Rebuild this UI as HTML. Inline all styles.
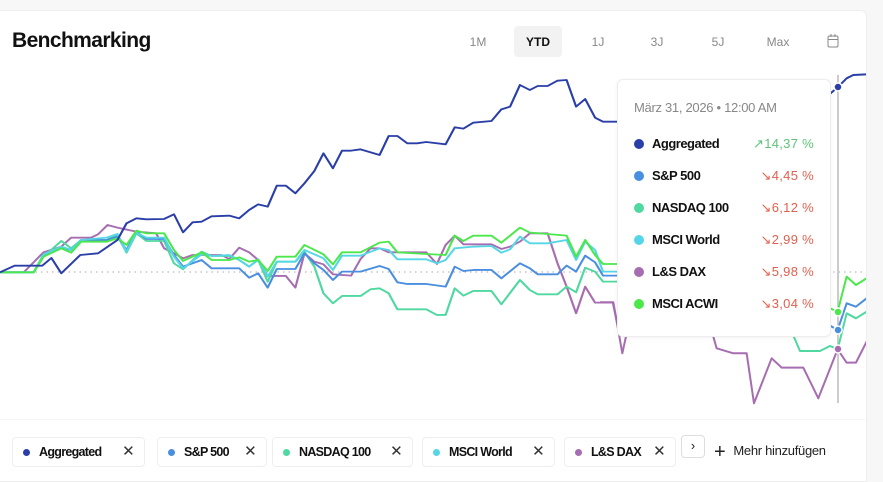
<!DOCTYPE html>
<html><head><meta charset="utf-8"><style>
body{margin:0;width:883px;height:472px;background:#f7f7f7;font-family:"Liberation Sans",sans-serif;overflow:hidden;position:relative}
.card{position:absolute;left:0;top:10px;width:866px;height:470px;background:#fff;border-radius:0 6px 0 0;border:1px solid #eee;border-left:none}
.t{position:absolute;font-size:12px;color:#888;transform:translateX(-50%);top:35px}
.chip{position:absolute;top:437px;height:30px;border:1px solid #eee;border-radius:4px;box-sizing:border-box;font-size:12.5px;font-weight:bold;letter-spacing:-0.7px;color:#111;line-height:28px}
.chip i{display:inline-block;width:7px;height:7px;border-radius:50%;margin:0 9px 0 10px;vertical-align:0}
.chip b{position:absolute;right:10px;top:0;font-weight:normal;font-size:15px;color:#333}
.tt{position:absolute;left:617px;top:79px;width:212px;height:256px;background:#fff;border:1px solid #eee;border-radius:6px;box-shadow:0 1px 4px rgba(0,0,0,.06)}
.row{position:absolute;left:16px;width:180px;font-size:13px;font-weight:bold;letter-spacing:-0.5px;color:#111}
.row i{display:inline-block;width:10px;height:10px;border-radius:50%;margin-right:8px;vertical-align:-1px}
.row span{position:absolute;right:0;font-weight:normal;color:#e0604f;letter-spacing:0.3px}
</style></head><body>
<div class="card"></div>
<div style="position:absolute;left:12px;top:29px;font-size:21px;font-weight:bold;letter-spacing:-0.6px;color:#111">Benchmarking</div>
<div style="position:absolute;left:514px;top:26px;width:48px;height:31px;background:#f2f2f2;border-radius:4px"></div>
<div class="t" style="left:478px">1M</div>
<div class="t" style="left:538px;color:#111;font-weight:bold">YTD</div>
<div class="t" style="left:598px">1J</div>
<div class="t" style="left:657px">3J</div>
<div class="t" style="left:718px">5J</div>
<div class="t" style="left:778px">Max</div>
<svg style="position:absolute;left:827px;top:34px" width="12" height="14"><rect x="1" y="2" width="10" height="11" rx="1.5" fill="none" stroke="#888"/><line x1="1" y1="5.5" x2="11" y2="5.5" stroke="#888"/><line x1="4" y1="0" x2="4" y2="3" stroke="#888"/><line x1="8" y1="0" x2="8" y2="3" stroke="#888"/></svg>

<svg style="position:absolute;left:0;top:0" width="866" height="420">
<line x1="30" y1="272" x2="866" y2="272" stroke="#aaa" stroke-dasharray="1.5 4"/>
<line x1="838" y1="75" x2="838" y2="403" stroke="#ccc" stroke-width="2"/>
<g transform="translate(0,60) scale(0.3954,0.3333)" fill="none" stroke-width="5.5" stroke-linejoin="round">
<polyline stroke="#a66db0" points="0,637 60,637 110,577 155,560 180,533 230,533 248,523 272,495 297,503 345,515 395,520 415,565 440,580 463,595 487,585 510,585 560,585 580,597 605,563 630,577 653,600 677,648 723,648 747,683 770,580 795,605 818,613 842,643 888,647 912,597 937,565 960,565 983,577 1078,577 1105,612 1127,555 1150,527 1172,553 1243,553 1268,567 1290,560 1315,545 1340,520 1385,520 1410,610 1433,680 1457,760 1480,680 1505,728 1550,728 1568,830"/>
<polyline stroke="#4fd8a0" points="0,637 85,637 110,590 155,543 180,565 205,540 270,540 297,525 320,578 345,520 370,543 415,543 440,610 463,628 510,575 535,588 580,588 605,600 630,620 653,600 677,665 700,605 747,605 770,575 795,620 818,700 842,730 865,708 912,708 937,688 960,685 983,700 1005,748 1078,748 1105,765 1127,765 1150,685 1172,707 1197,693 1243,693 1268,733 1315,660 1340,690 1360,703 1410,703 1433,680 1457,697 1480,623 1505,635 1525,665 1600,665"/>
<polyline stroke="#4a8ee0" points="0,637 85,637 110,588 155,565 180,570 205,540 270,540 297,530 320,570 345,515 370,537 415,537 440,585 463,620 510,600 535,625 605,625 630,653 653,640 677,683 700,627 747,627 770,580 795,610 818,630 842,660 865,635 912,635 960,618 983,627 1005,667 1030,672 1078,672 1127,680 1150,620 1172,633 1197,630 1243,630 1268,655 1315,610 1340,625 1360,643 1410,643 1433,617 1457,635 1480,587 1505,607 1525,647 1600,647"/>
<polyline stroke="#55d6e6" points="0,637 85,637 110,583 155,560 180,570 205,540 270,533 297,522 320,575 345,518 370,533 415,533 440,590 463,625 510,583 535,588 580,585 605,600 630,620 653,598 677,650 700,605 747,605 770,570 818,595 842,630 865,587 912,587 960,565 983,570 1005,598 1078,598 1105,610 1127,600 1150,565 1197,560 1243,558 1268,578 1290,568 1315,530 1340,550 1385,550 1433,540 1457,600 1480,545 1505,570 1525,635 1600,635"/>
<polyline stroke="#4ae84a" points="0,637 85,637 110,590 155,565 180,578 205,545 270,545 297,535 320,555 345,512 370,520 415,520 440,570 463,603 510,577 535,600 580,600 605,592 630,605 653,600 677,633 700,590 747,590 770,555 818,583 842,613 865,577 912,577 960,548 983,545 1005,577 1078,582 1127,585 1150,527 1172,543 1197,527 1243,527 1268,548 1315,503 1340,518 1385,522 1433,527 1457,590 1480,540 1505,585 1525,612 1600,612"/>
<polyline stroke="#2a3ea8" points="0,637 37,617 107,617 130,594 155,640 203,585 248,580 297,540 320,490 345,475 370,478 415,477 440,463 463,517 487,487 510,485 535,469 580,467 605,475 630,450 653,433 677,440 700,377 723,377 747,400 770,370 795,333 818,280 842,325 865,272 888,272 912,268 960,285 983,228 1005,228 1030,250 1055,250 1078,246 1127,253 1150,202 1172,206 1197,188 1243,183 1268,148 1290,140 1315,75 1340,90 1360,78 1385,78 1410,62 1433,60 1457,140 1480,117 1505,173 1525,185 1600,185"/>
</g>
<g transform="translate(600,60) scale(0.3333)" fill="none" stroke-width="6" stroke-linejoin="round">
<polyline stroke="#a66db0" points="0,727 40,727 67,880 80,820"/>
<polyline stroke="#a66db0" points="320,780 340,830 350,865 400,880 440,880 462,1030 515,895 545,923 610,923 655,1015 713,868 740,908 768,908 800,845"/>
<polyline stroke="#4fd8a0" points="560,780 600,873 660,873 690,858 713,868 740,760 768,775 800,755"/>
<polyline stroke="#4a8ee0" points="690,797 713,810 740,730 768,740 800,715"/>
<polyline stroke="#4ae84a" points="690,745 713,755 740,650 768,675 800,655"/>
<polyline stroke="#2a3ea8" points="680,110 713,82 740,55 760,45 800,43"/>
</g>
<circle cx="838" cy="87" r="4" fill="#2a3ea8" stroke="#fff" stroke-width="1.5"/>
<circle cx="838" cy="312" r="4" fill="#4ae84a" stroke="#fff" stroke-width="1.5"/>
<circle cx="838" cy="330" r="4" fill="#4a8ee0" stroke="#fff" stroke-width="1.5"/>
<circle cx="838" cy="349" r="4" fill="#a66db0" stroke="#fff" stroke-width="1.5"/>
<line x1="0" y1="420" x2="866" y2="420" stroke="#eee"/>
</svg>

<div class="tt">
<div style="position:absolute;left:16px;top:20px;font-size:13px;color:#888;letter-spacing:-0.3px">März 31, 2026 • 12:00 AM</div>
<div class="row" style="top:56px"><i style="background:#2a3ea8"></i>Aggregated<span style="color:#5cc47a">↗14,37 %</span></div>
<div class="row" style="top:88px"><i style="background:#4a8ee0"></i>S&amp;P 500<span>↘4,45 %</span></div>
<div class="row" style="top:120px"><i style="background:#4fd8a0"></i>NASDAQ 100<span>↘6,12 %</span></div>
<div class="row" style="top:152px"><i style="background:#55d6e6"></i>MSCI World<span>↘2,99 %</span></div>
<div class="row" style="top:184px"><i style="background:#a66db0"></i>L&amp;S DAX<span>↘5,98 %</span></div>
<div class="row" style="top:216px"><i style="background:#4ae84a"></i>MSCI ACWI<span>↘3,04 %</span></div>
</div>

<div class="chip" style="left:12px;width:133px"><i style="background:#2a3ea8"></i>Aggregated<b>✕</b></div>
<div class="chip" style="left:157px;width:110px"><i style="background:#4a8ee0"></i>S&amp;P 500<b>✕</b></div>
<div class="chip" style="left:272px;width:141px"><i style="background:#4fd8a0"></i>NASDAQ 100<b>✕</b></div>
<div class="chip" style="left:422px;width:133px"><i style="background:#55d6e6"></i>MSCI World<b>✕</b></div>
<div class="chip" style="left:564px;width:112px"><i style="background:#a66db0"></i>L&amp;S DAX<b>✕</b></div>
<div style="position:absolute;left:681px;top:435px;width:24px;height:23px;border:1px solid #ddd;border-radius:4px;box-sizing:border-box;background:#fff;text-align:center;font-size:13px;line-height:20px;color:#222">›</div>
<div style="position:absolute;left:714px;top:441px;font-size:13px;color:#222;letter-spacing:-0.3px"><span style="font-size:20px;font-weight:300;vertical-align:-3px;margin-right:8px">+</span>Mehr hinzufügen</div>
</body></html>
